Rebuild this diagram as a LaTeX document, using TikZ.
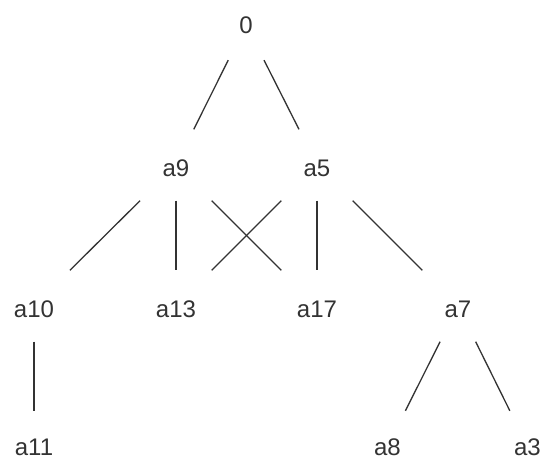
\documentclass[tikz,border=0pt]{standalone}
\usepackage{fontspec}
\setmainfont{Liberation Sans}
\begin{document}
\begin{tikzpicture}[x=1pt,y=-1pt,
  treenode/.style={rectangle,inner sep=0pt,minimum width=80pt,minimum height=71pt,
    text height=22pt,text depth=0pt,
    text=black!80,font=\fontsize{24}{28}\selectfont},
  leafrow/.style={text height=17pt},
  edge/.style={line width=1.3pt,draw=black!80}]
\useasboundingbox (0,0) rectangle (542,459);
\fill[white] (0,0) rectangle (542,459);
\node[treenode,text height=17pt] (n0) at (246,24.5) {0};
\node[treenode] (a9)  at (176,165) {a9};
\node[treenode] (a5)  at (317,165) {a5};
\node[treenode] (a10) at (34,306) {a10};
\node[treenode] (a13) at (176,306) {a13};
\node[treenode] (a17) at (317,306) {a17};
\node[treenode] (a7)  at (458,306) {a7};
\node[treenode,leafrow] (a11) at (34,446.5) {a11};
\node[treenode,leafrow] (a8)  at (387.5,446.5) {a8};
\node[treenode,leafrow] (a3)  at (527.5,446.5) {a3};
\draw[edge] (n0) -- (a9);
\draw[edge] (n0) -- (a5);
\draw[edge] (a9) -- (a10);
\draw[edge] (a9) -- (a13);
\draw[edge] (a9) -- (a17);
\draw[edge] (a5) -- (a13);
\draw[edge] (a5) -- (a17);
\draw[edge] (a5) -- (a7);
\draw[edge] (a10) -- (a11);
\draw[edge] (a7) -- (a8);
\draw[edge] (a7) -- (a3);
\end{tikzpicture}
\end{document}
